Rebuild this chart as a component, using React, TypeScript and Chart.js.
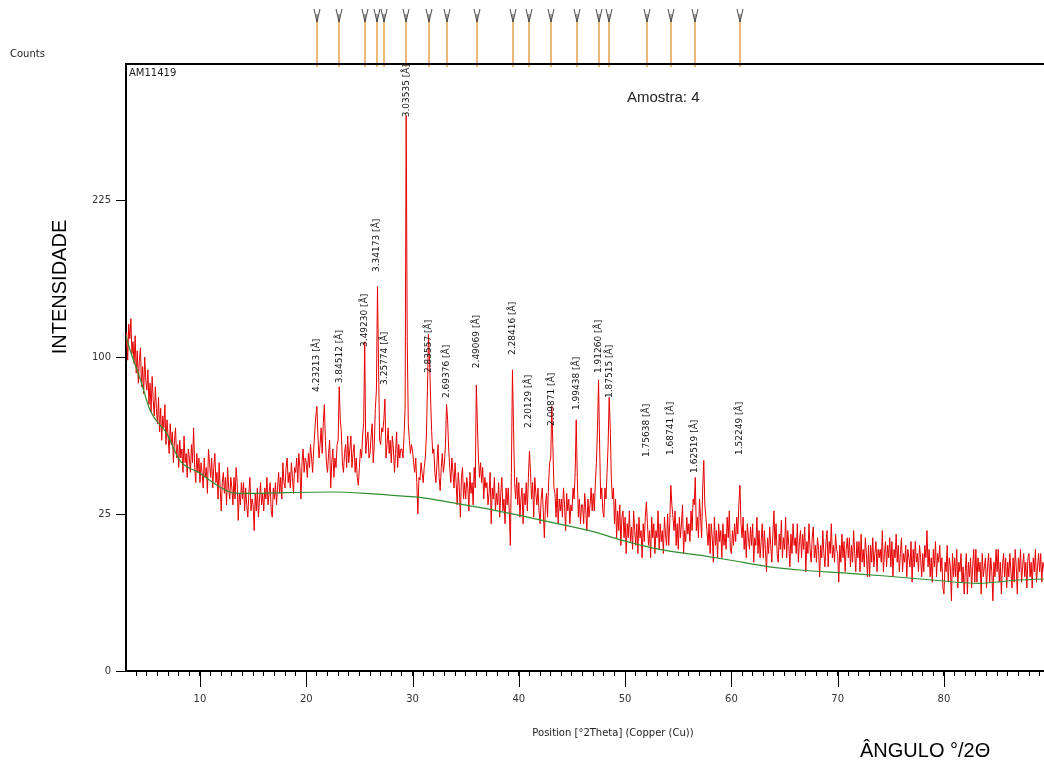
import React, { useEffect, useRef } from "react";
import { Chart, registerables, LinearScale } from "chart.js";

// ---- data ----
const twoThetaStart = 3.0;
const twoThetaStep = 0.1;
// observed counts, one value per 0.1 deg from 3.0 deg (one row per degree)
const observedCounts = [
  104, 116, 98, 122, 112, 126, 102, 110, 96, 114,
  90, 104, 84, 98, 106, 82, 94, 78, 100, 86,
  80, 92, 72, 84, 68, 88, 74, 66, 82, 70,
  62, 76, 58, 70, 54, 66, 60, 72, 52, 64,
  56, 48, 62, 52, 58, 44, 54, 60, 46, 52,
  42, 54, 46, 50, 40, 56, 44, 48, 38, 50,
  46, 40, 52, 44, 60, 42, 36, 48, 40, 46,
  36, 44, 40, 34, 46, 38, 42, 32, 50, 44,
  38, 46, 34, 42, 48, 36, 40, 30, 44, 34,
  26, 36, 40, 32, 38, 28, 42, 34, 30, 38,
  34, 28, 38, 30, 42, 36, 23, 32, 28, 36,
  30, 36, 26, 34, 28, 24, 32, 38, 26, 30,
  28, 20, 32, 26, 34, 24, 30, 36, 28, 32,
  26, 34, 30, 38, 28, 32, 36, 26, 24, 34,
  30, 36, 28, 34, 40, 32, 38, 30, 44, 36,
  34, 42, 46, 36, 40, 34, 44, 38, 32, 42,
  40, 46, 36, 48, 42, 30, 44, 50, 40, 46,
  44, 38, 48, 42, 52, 46, 40, 50, 58, 66,
  71, 56, 46, 52, 60, 48, 62, 72, 54, 44,
  40, 48, 54, 34, 44, 50, 38, 46, 42, 52,
  54, 82, 64, 58, 44, 40, 48, 52, 42, 56,
  44, 50, 56, 42, 48, 52, 40, 46, 38, 35,
  42, 50, 46, 56, 62, 110, 48, 54, 58, 46,
  48, 56, 62, 44, 52, 70, 80, 150, 95, 54,
  52, 60, 58, 64, 75, 46, 52, 60, 48, 54,
  44, 56, 50, 40, 48, 58, 42, 52, 46, 50,
  50, 46, 56, 70, 313, 110, 62, 54, 48, 52,
  49, 44, 40, 46, 36, 25, 38, 37, 44, 40,
  36, 42, 46, 56, 80, 115, 98, 75, 58, 48,
  50, 40, 36, 44, 52, 38, 33, 42, 48, 40,
  44, 52, 72, 64, 50, 42, 36, 46, 40, 34,
  44, 36, 28, 40, 34, 24, 38, 42, 30, 36,
  30, 38, 34, 26, 40, 32, 36, 28, 42, 34,
  83, 62, 46, 38, 44, 36, 42, 30, 38, 34,
  36, 28, 32, 40, 22, 34, 30, 38, 26, 32,
  28, 36, 24, 32, 38, 26, 30, 22, 34, 28,
  34, 26, 16, 40, 92, 60, 36, 30, 38, 28,
  36, 24, 30, 34, 22, 32, 28, 36, 26, 38,
  49, 40, 30, 36, 24, 38, 32, 28, 34, 26,
  22, 30, 34, 26, 18, 28, 32, 24, 36, 44,
  46, 71, 52, 34, 32, 24, 34, 22, 30, 26,
  30, 24, 34, 28, 20, 32, 26, 30, 22, 28,
  26, 34, 30, 40, 64, 38, 24, 30, 22, 28,
  28, 22, 32, 26, 20, 30, 24, 28, 34, 26,
  32, 26, 36, 44, 60, 86, 52, 30, 34, 26,
  24, 34, 30, 40, 52, 76, 60, 38, 30, 34,
  22, 30, 18, 26, 20, 28, 16, 24, 26, 18,
  24, 14, 22, 18, 26, 17, 21, 15, 26, 20,
  16, 22, 14, 24, 18, 20, 13, 22, 17, 24,
  29, 22, 16, 20, 13, 24, 18, 22, 14, 20,
  18, 26, 15, 22, 17, 20, 14, 24, 19, 16,
  25, 16, 22, 35, 28, 24, 20, 26, 16, 22,
  15, 24, 18, 22, 28, 14, 20, 17, 24, 19,
  22, 17, 26, 20, 30, 28, 38, 20, 24, 18,
  30, 24, 18, 34, 45, 28, 24, 20, 16, 22,
  14, 22, 18, 12, 24, 16, 20, 13, 22, 17,
  20, 13, 22, 16, 19, 15, 24, 18, 26, 15,
  14, 20, 16, 22, 17, 24, 19, 28, 35, 22,
  18, 24, 15, 20, 13, 22, 18, 15, 21, 16,
  22, 12, 18, 16, 24, 14, 20, 13, 17, 22,
  13, 20, 15, 10, 18, 14, 21, 16, 12, 19,
  26, 16, 22, 14, 12, 19, 15, 23, 13, 18,
  15, 24, 13, 20, 16, 11, 19, 14, 22, 16,
  18, 14, 22, 12, 17, 20, 13, 19, 15, 21,
  10, 17, 14, 22, 15, 12, 18, 21, 13, 16,
  12, 18, 15, 9, 16, 13, 20, 14, 11, 17,
  20, 11, 17, 14, 22, 13, 16, 12, 19, 15,
  14, 8, 16, 12, 19, 13, 17, 10, 15, 18,
  13, 18, 11, 16, 12, 20, 14, 10, 17, 13,
  17, 10, 19, 12, 15, 11, 18, 14, 9, 16,
  9, 16, 12, 18, 11, 14, 17, 10, 15, 13,
  15, 12, 20, 10, 14, 17, 11, 16, 13, 18,
  11, 17, 9, 15, 13, 19, 12, 16, 10, 14,
  18, 10, 14, 12, 16, 9, 15, 13, 11, 17,
  8, 15, 11, 17, 12, 14, 10, 16, 13, 9,
  14, 10, 16, 13, 20, 11, 15, 9, 13, 8,
  15, 11, 17, 9, 14, 12, 16, 10, 13, 7,
  6, 12, 10, 16, 8, 13, 11, 5, 14, 9,
  13, 9, 15, 7, 12, 10, 14, 8, 11, 6,
  10, 14, 6, 12, 9, 13, 7, 11, 15, 8,
  15, 8, 13, 10, 12, 6, 14, 9, 11, 13,
  7, 11, 14, 8, 13, 10, 5, 12, 9, 15,
  10, 15, 8, 12, 6, 11, 14, 9, 13, 7,
  12, 9, 14, 10, 7, 13, 8, 15, 11, 6,
  13, 10, 15, 8, 11, 14, 9, 12, 7, 13,
  14, 9, 12, 7, 13, 10, 15, 8, 11, 14,
  10, 14, 8, 12, 11, 9, 13, 10, 12, 8,
];

const backgroundTwoTheta = [3.0, 3.4, 4.4, 5.3, 6.9, 8.1, 10.0, 11.6, 13.1, 14.7, 17.0, 22.5, 26.3, 28.8, 30.7, 34.1, 37.3, 40.7, 43.5, 47.0, 49.5, 51.4, 53.2, 57.0, 59.8, 63.6, 66.4, 70.8, 74.5, 78.9, 83.3, 87.0, 89.6];
const backgroundCounts = [115, 105, 86, 69, 57, 45, 39.7, 35, 32.2, 32, 32.2, 32.5, 31.8, 31.1, 30.6, 28.5, 26.5, 24.1, 22.1, 19.7, 17.5, 16.1, 15.0, 13.6, 12.5, 11.0, 10.35, 9.7, 9.15, 8.4, 7.8, 8.4, 8.6];

const peakTwoTheta = [20.974, 23.113, 25.485, 26.654, 27.354, 29.402, 31.526, 33.232, 36.031, 39.418, 40.967, 43.066, 45.44, 47.50, 48.51, 52.03, 54.32, 56.58, 60.79];
const peakD = ["4.23213", "3.84512", "3.49230", "3.34173", "3.25774", "3.03535", "2.83557", "2.69376", "2.49069", "2.28416", "2.20129", "2.09871", "1.99438", "1.91260", "1.87515", "1.75638", "1.68741", "1.62519", "1.52249"];
const peakLabelCounts = [79, 84, 106.5, 161.5, 83, 311, 90, 75.6, 93, 101.3, 59.9, 60.9, 69.1, 90, 75.6, 46.4, 47.3, 39.8, 47.3];

const yTickValues = [0, 25, 100, 225];
const xMajorTicks = [10, 20, 30, 40, 50, 60, 70, 80];
const xMin = 3.04;
const xMax = 89.41;
const yMax = 373.7;

// ---- square-root scale ----
class SqrtScale extends LinearScale {
  static id = "sqrt";
  static defaults = {};
  buildTicks() {
    return yTickValues.map((v) => ({ value: v }));
  }
  getPixelForValue(value: any) {
    if (value === null || value === undefined || isNaN(value)) return NaN;
    const a = Math.sqrt(Math.max(0, (this as any).min));
    const b = Math.sqrt((this as any).max);
    const s = Math.sqrt(Math.max(0, value));
    return (this as any).getPixelForDecimal((s - a) / (b - a));
  }
  getValueForPixel(pixel: number) {
    const a = Math.sqrt(Math.max(0, (this as any).min));
    const b = Math.sqrt((this as any).max);
    const d = (this as any).getDecimalForPixel(pixel);
    const s = a + d * (b - a);
    return s * s;
  }
}

Chart.register(...registerables, SqrtScale as any);

const decorPlugin = {
  id: "decor",
  afterDraw(chart: any) {
    const { ctx, chartArea } = chart;
    const { left, right, top, bottom } = chartArea;
    const xs = chart.scales.x;
    const ys = chart.scales.y;
    ctx.save();

    // phase markers above the plot
    peakTwoTheta.forEach((p) => {
      const x = Math.round(xs.getPixelForValue(p));
      ctx.strokeStyle = "#e9a04a";
      ctx.lineWidth = 1.5;
      ctx.beginPath();
      ctx.moveTo(x, 22);
      ctx.lineTo(x, top + 3);
      ctx.stroke();
      ctx.strokeStyle = "#484848";
      ctx.lineWidth = 1;
      ctx.beginPath();
      ctx.moveTo(x - 3, 9);
      ctx.lineTo(x, 22);
      ctx.lineTo(x + 3, 9);
      ctx.moveTo(x, 14);
      ctx.lineTo(x, 22);
      ctx.stroke();
    });

    // top frame line
    ctx.strokeStyle = "#000";
    ctx.lineWidth = 2;
    ctx.beginPath();
    ctx.moveTo(left - 1, top);
    ctx.lineTo(right, top);
    ctx.stroke();

    // major x ticks
    ctx.lineWidth = 1;
    xMajorTicks.forEach((v) => {
      const x = Math.round(xs.getPixelForValue(v)) + 0.5;
      ctx.beginPath();
      ctx.moveTo(x, bottom);
      ctx.lineTo(x, bottom + 16);
      ctx.stroke();
    });

    // peak labels
    ctx.fillStyle = "#111";
    ctx.font = "9px 'DejaVu Sans'";
    ctx.textAlign = "left";
    ctx.textBaseline = "middle";
    peakTwoTheta.forEach((p, i) => {
      const x = xs.getPixelForValue(p);
      const y = ys.getPixelForValue(peakLabelCounts[i]);
      ctx.save();
      ctx.translate(x, y);
      ctx.rotate(-Math.PI / 2);
      ctx.fillText(peakD[i] + " [Å]", 0, 0);
      ctx.restore();
    });

    // texts
    ctx.fillStyle = "#222";
    ctx.font = "10px 'DejaVu Sans'";
    ctx.textAlign = "left";
    ctx.fillText("Counts", 10, 54);
    ctx.fillText("AM11419", left + 3, top + 9);
    ctx.textAlign = "center";
    ctx.fillText("Position [°2Theta] (Copper (Cu))", 613, 733);

    ctx.fillStyle = "#222";
    ctx.font = "15px 'Liberation Sans'";
    ctx.textAlign = "left";
    ctx.fillText("Amostra: 4", 627, 98);

    ctx.fillStyle = "#000";
    ctx.font = "20px 'Liberation Sans'";
    ctx.textAlign = "left";
    ctx.fillText("ÂNGULO °/2Θ", 860, 751);

    ctx.save();
    ctx.translate(60, 287);
    ctx.rotate(-Math.PI / 2);
    ctx.textAlign = "center";
    ctx.fillText("INTENSIDADE", 0, 0);
    ctx.restore();

    ctx.restore();
  },
};

export default function App() {
  const ref = useRef<HTMLCanvasElement>(null);
  useEffect(() => {
    if (!ref.current) return;
    const observed = observedCounts.map((c, i) => ({ x: +(twoThetaStart + i * twoThetaStep).toFixed(2), y: c }));
    const background = backgroundTwoTheta.map((t, i) => ({ x: t, y: backgroundCounts[i] }));
    const chart = new Chart(ref.current, {
      type: "line",
      data: {
        datasets: [
          {
            label: "background",
            data: background,
            borderColor: "#2f8f2f",
            borderWidth: 1.2,
            pointRadius: 0,
            cubicInterpolationMode: "monotone",
          },
          {
            label: "AM11419",
            data: observed,
            borderColor: "#e60000",
            borderWidth: 1,
            pointRadius: 0,
            tension: 0,
          },
        ],
      },
      options: {
        animation: false,
        responsive: false,
        layout: { padding: { top: 64, left: 0, right: 0, bottom: 0 } },
        plugins: { legend: { display: false }, tooltip: { enabled: false } },
        scales: {
          x: {
            type: "linear",
            min: xMin,
            max: xMax,
            afterBuildTicks: (scale: any) => {
              const t = [];
              for (let v = 4; v <= 89; v++) t.push({ value: v });
              scale.ticks = t;
            },
            afterFit: (scale: any) => {
              scale.height = 97;
              scale.paddingLeft = 0;
              scale.paddingRight = 0;
            },
            ticks: {
              autoSkip: false,
              maxRotation: 0,
              padding: 17,
              color: "#333",
              font: { family: "DejaVu Sans", size: 10 },
              callback: (v: any) => (v % 10 === 0 ? String(v) : ""),
            },
            grid: { drawOnChartArea: false, tickLength: 5, tickColor: "#000", tickWidth: 1 },
            border: { display: true, color: "#000", width: 2 },
          },
          y: {
            type: "sqrt" as any,
            min: 0,
            max: yMax,
            position: "left",
            afterFit: (scale: any) => {
              scale.width = 126;
            },
            ticks: {
              padding: 5,
              color: "#333",
              font: { family: "DejaVu Sans", size: 10 },
              callback: (v: any) => String(v),
            },
            grid: { drawOnChartArea: false, tickLength: 10, tickColor: "#000", tickWidth: 1 },
            border: { display: true, color: "#000", width: 2 },
          },
        },
      } as any,
      plugins: [decorPlugin],
    });
    return () => chart.destroy();
  }, []);
  return (
    <div style={{ position: "fixed", left: 0, top: 0, width: 1044, height: 768, background: "#fff" }}>
      <canvas ref={ref} width={1044} height={768} style={{ display: "block" }} />
    </div>
  );
}
